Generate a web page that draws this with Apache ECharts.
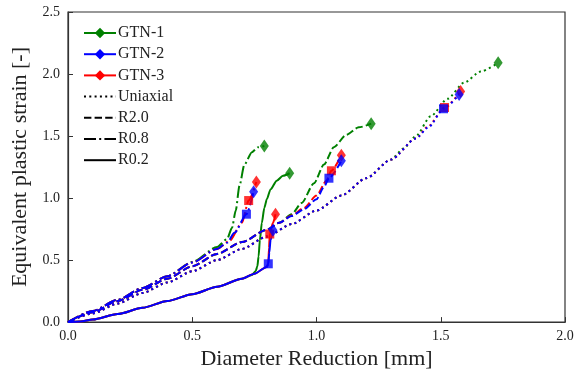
<!DOCTYPE html>
<html>
<head>
<meta charset="utf-8">
<script src="https://cdn.jsdelivr.net/npm/echarts@6/dist/echarts.min.js"></script>
<style>html,body{margin:0;padding:0;background:#fff;}#c{width:583px;height:375px;}</style>
</head>
<body>
<div id="c"></div>
<script>
// Tick labels
const xTicks = [0.0, 0.5, 1.0, 1.5, 2.0];
const yTicks = [0.0, 0.5, 1.0, 1.5, 2.0, 2.5];
const legendNames = ['GTN-1', 'GTN-2', 'GTN-3', 'Uniaxial', 'R2.0', 'R0.8', 'R0.2'];

// GTN-1 (green)
const gtn1_uni = [[0,0],[0.1,0.07],[0.2,0.15],[0.3,0.235],[0.4,0.32],[0.5,0.41],[0.6,0.5],[0.7,0.59],[0.8,0.69],[0.9,0.79],[1.0,0.9],[1.1,1.02],[1.2,1.16],[1.3,1.31],[1.35,1.40],[1.4,1.50],[1.46,1.66],[1.527,1.80],[1.594,1.93],[1.661,2.02],[1.731,2.09]];
const gtn1_r20 = [[0,0],[0.1,0.08],[0.2,0.17],[0.3,0.26],[0.4,0.35],[0.5,0.45],[0.6,0.55],[0.7,0.645],[0.8,0.745],[0.85,0.80],[0.9,0.87],[0.94,0.96],[0.99,1.12],[1.03,1.27],[1.07,1.41],[1.12,1.51],[1.17,1.57],[1.22,1.60]];
const gtn1_r08 = [[0,0],[0.1,0.09],[0.2,0.18],[0.3,0.275],[0.4,0.37],[0.5,0.485],[0.6,0.605],[0.64,0.67],[0.66,0.76],[0.675,0.9],[0.69,1.1],[0.71,1.27],[0.74,1.37],[0.765,1.41],[0.79,1.42]];
const gtn1_r02 = [[0,0],[0.05,0.005],[0.1,0.02],[0.2,0.065],[0.3,0.115],[0.4,0.17],[0.5,0.225],[0.6,0.285],[0.7,0.35],[0.74,0.38],[0.755,0.41],[0.762,0.45],[0.767,0.53],[0.772,0.66],[0.78,0.80],[0.79,0.92],[0.80,0.99],[0.815,1.07],[0.84,1.14],[0.865,1.18],[0.892,1.20]];

// GTN-2 (blue)
const gtn2_uni = [[0,0],[0.1,0.07],[0.2,0.15],[0.3,0.235],[0.4,0.32],[0.5,0.41],[0.6,0.5],[0.7,0.59],[0.8,0.69],[0.9,0.79],[1.0,0.9],[1.1,1.02],[1.2,1.16],[1.3,1.31],[1.4,1.48],[1.45,1.57],[1.511,1.72],[1.574,1.835]];
const gtn2_r20 = [[0,0],[0.1,0.08],[0.2,0.17],[0.3,0.26],[0.4,0.35],[0.5,0.45],[0.6,0.55],[0.7,0.645],[0.8,0.745],[0.85,0.80],[0.9,0.855],[0.95,0.91],[1.0,0.99],[1.03,1.09],[1.05,1.16],[1.10,1.30]];
const gtn2_r08 = [[0,0],[0.1,0.09],[0.2,0.18],[0.3,0.275],[0.4,0.37],[0.5,0.48],[0.6,0.59],[0.64,0.64],[0.67,0.72],[0.718,0.87],[0.747,1.05]];
const gtn2_r02 = [[0,0],[0.05,0.005],[0.1,0.02],[0.2,0.065],[0.3,0.115],[0.4,0.17],[0.5,0.225],[0.6,0.285],[0.7,0.35],[0.75,0.39],[0.8,0.445],[0.806,0.47],[0.81,0.56],[0.815,0.66],[0.825,0.74]];
const gtn2_squares = [[0.718,0.87],[0.806,0.47],[1.05,1.16],[1.511,1.72]];

// GTN-3 (red)
const gtn3_uni = [[0,0],[0.1,0.07],[0.2,0.15],[0.3,0.235],[0.4,0.32],[0.5,0.41],[0.6,0.5],[0.7,0.59],[0.8,0.69],[0.9,0.79],[1.0,0.9],[1.1,1.02],[1.2,1.16],[1.3,1.31],[1.4,1.48],[1.45,1.58],[1.515,1.73],[1.58,1.86]];
const gtn3_r20 = [[0,0],[0.1,0.08],[0.2,0.17],[0.3,0.26],[0.4,0.35],[0.5,0.45],[0.6,0.55],[0.7,0.645],[0.8,0.745],[0.85,0.80],[0.9,0.86],[0.95,0.92],[1.0,1.02],[1.04,1.14],[1.06,1.22],[1.10,1.345]];
const gtn3_r08 = [[0,0],[0.1,0.09],[0.2,0.18],[0.3,0.275],[0.4,0.37],[0.5,0.48],[0.6,0.59],[0.65,0.655],[0.7,0.80],[0.727,0.98],[0.758,1.13]];
const gtn3_r02 = [[0,0],[0.05,0.005],[0.1,0.02],[0.2,0.065],[0.3,0.115],[0.4,0.17],[0.5,0.225],[0.6,0.285],[0.7,0.35],[0.75,0.39],[0.8,0.445],[0.806,0.47],[0.809,0.6],[0.812,0.71],[0.825,0.80],[0.835,0.87]];
const gtn3_squares = [[0.727,0.98],[0.812,0.71],[1.06,1.22],[1.515,1.73]];

const FONT = 'Liberation Serif';
const GREEN = '#008000', BLUE = '#0000ff', RED = '#ff0000';
const DOT = [2, 3.3], DASH = [7.4, 3.2], DASHDOT = [12, 3.2, 2, 3.2];

function lineSeries(name, data, color, type) {
  return {
    name: name, type: 'line', data: data, showSymbol: false, symbol: 'none',
    smooth: 0.25, smoothMonotone: 'x', silent: true, animation: false,
    lineStyle: {color: color, width: 2, type: type}, itemStyle: {color: color}, z: 2
  };
}
function markers(name, data, color, symbol, size) {
  return {
    name: name, type: 'scatter', data: data, symbol: symbol, symbolSize: size,
    itemStyle: {color: color}, silent: true, animation: false, z: 3
  };
}
function last(arr) { return arr[arr.length - 1]; }

const series = [];
// green
series.push(lineSeries('g1', gtn1_uni, GREEN, DOT));
series.push(lineSeries('g2', gtn1_r20, GREEN, DASH));
series.push(lineSeries('g3', gtn1_r08, GREEN, DASHDOT));
series.push(lineSeries('g4', gtn1_r02, GREEN, 'solid'));
series.push(markers('gd', [last(gtn1_uni), last(gtn1_r20), last(gtn1_r08), last(gtn1_r02)], GREEN, 'diamond', [9, 13]));
// red
series.push(lineSeries('r1', gtn3_uni, RED, DOT));
series.push(lineSeries('r2', gtn3_r20, RED, DASH));
series.push(lineSeries('r3', gtn3_r08, RED, DASHDOT));
series.push(lineSeries('r4', gtn3_r02, RED, 'solid'));
series.push(markers('rs', gtn3_squares, RED, 'rect', 9));
series.push(markers('rd', [last(gtn3_uni), last(gtn3_r20), last(gtn3_r08), last(gtn3_r02)], RED, 'diamond', [9, 13]));
// blue
series.push(lineSeries('b1', gtn2_uni, BLUE, DOT));
series.push(lineSeries('b2', gtn2_r20, BLUE, DASH));
series.push(lineSeries('b3', gtn2_r08, BLUE, DASHDOT));
series.push(lineSeries('b4', gtn2_r02, BLUE, 'solid'));
series.push(markers('bs', gtn2_squares, BLUE, 'rect', 9));
series.push(markers('bd', [last(gtn2_uni), last(gtn2_r20), last(gtn2_r08), last(gtn2_r02)], BLUE, 'diamond', [9, 13]));

// legend dummy series
const legendColors = [GREEN, BLUE, RED, '#000', '#000', '#000', '#000'];
const legendTypes = ['solid', 'solid', 'solid', DOT, DASH, DASHDOT, 'solid'];
legendNames.forEach(function (n, i) {
  series.push({
    name: n, type: 'line', data: [], symbol: i < 3 ? 'diamond' : 'none', symbolSize: [9, 13],
    lineStyle: {color: legendColors[i], width: 2, type: legendTypes[i]},
    itemStyle: {color: legendColors[i]}, animation: false
  });
});

const legendData = legendNames.map(function (n, i) {
  if (i < 3) return {name: n};
  return {name: n, itemStyle: {color: 'rgba(0,0,0,0)', borderColor: 'rgba(0,0,0,0)', borderWidth: 0, opacity: 0}};
});

const chart = echarts.init(document.getElementById('c'), null, {renderer: 'canvas'});
chart.setOption({
  animation: false,
  backgroundColor: '#fff',
  grid: {left: 68, right: 18, top: 12, bottom: 52, show: true, borderColor: '#333', borderWidth: 1.2, backgroundColor: 'transparent'},
  legend: {
    data: legendData, orient: 'vertical', left: 78, top: 20, itemWidth: 32, itemHeight: 13, itemGap: 5.2,
    textStyle: {fontFamily: FONT, fontSize: 16, color: '#222', padding: [0, 0, 0, -3]}, selectedMode: false
  },
  xAxis: {
    type: 'value', min: xTicks[0], max: xTicks[xTicks.length - 1], interval: 0.5,
    name: 'Diameter Reduction [mm]', nameLocation: 'middle', nameGap: 24,
    nameTextStyle: {fontFamily: FONT, fontSize: 22, color: '#222'},
    axisLine: {show: true, lineStyle: {color: '#333', width: 1.2}},
    axisTick: {show: true, inside: true, length: 5, lineStyle: {color: '#333'}},
    axisLabel: {fontFamily: FONT, fontSize: 14, color: '#222', margin: 7, formatter: function (v) { return v.toFixed(1); }},
    splitLine: {show: false}
  },
  yAxis: {
    type: 'value', min: yTicks[0], max: yTicks[yTicks.length - 1], interval: 0.5,
    name: 'Equivalent plastic strain [-]', nameLocation: 'middle', nameGap: 34,
    nameTextStyle: {fontFamily: FONT, fontSize: 22, color: '#222'},
    axisLine: {show: true, lineStyle: {color: '#333', width: 1.2}},
    axisTick: {show: true, inside: true, length: 5, lineStyle: {color: '#333'}},
    axisLabel: {fontFamily: FONT, fontSize: 14, color: '#222', margin: 8, formatter: function (v) { return v.toFixed(1); }},
    splitLine: {show: false}
  },
  series: series
});
</script>
</body>
</html>
